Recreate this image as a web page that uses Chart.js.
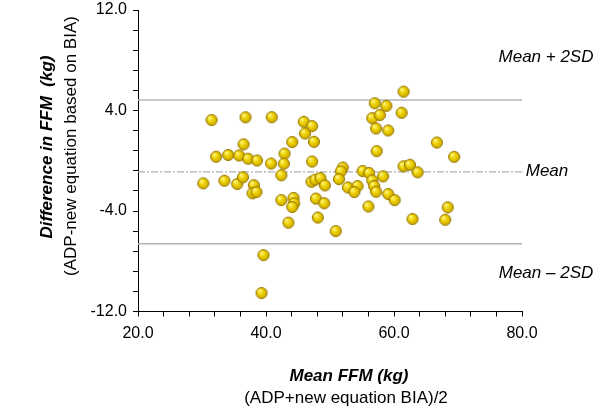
<!DOCTYPE html>
<html><head><meta charset="utf-8">
<script src="https://cdn.jsdelivr.net/npm/chart.js@4.4.0/dist/chart.umd.min.js"></script>
<style>html,body{margin:0;padding:0;background:#fff}</style>
</head><body>
<canvas id="c" width="600" height="408" style="display:block;width:600px;height:408px"></canvas>
<script>
// Mean FFM (x) and difference in FFM (y) for each subject
const meanFFM = [31.5,36.8,40.9,45.9,47.2,46.1,47.5,44.1,57.0,58.8,61.5,56.6,57.8,61.2,57.2,59.1,66.7,36.5,57.3,32.2,
  34.1,35.8,37.2,38.6,40.8,42.9,42.8,47.2,69.4,61.5,62.5,63.7,52.0,51.7,55.1,56.1,58.3,42.4,30.2,33.5,
  35.5,36.4,38.1,37.9,38.5,47.1,47.7,48.5,49.2,51.4,52.8,54.3,53.8,56.6,56.9,57.2,59.1,60.1,42.4,44.3,
  44.4,44.1,47.8,49.1,56.0,68.4,43.5,48.1,50.9,62.9,68.0,39.6,39.3];
const diffFFM = [3.24,3.46,3.47,3.10,2.76,2.17,1.51,1.49,4.58,4.37,5.50,3.39,3.64,3.82,2.57,2.41,1.45,1.31,0.77,0.32,
  0.46,0.42,0.16,0.02,-0.22,0.57,-0.23,-0.06,0.31,-0.44,-0.32,-0.92,-0.54,-0.84,-0.82,-0.98,-1.24,-1.15,-1.80,-1.59,
  -1.85,-1.31,-1.95,-2.59,-2.49,-1.67,-1.50,-1.38,-1.96,-1.46,-2.12,-2.01,-2.49,-1.56,-2.01,-2.47,-2.65,-3.13,-3.13,-2.96,
  -3.39,-3.68,-3.01,-3.38,-3.64,-3.71,-4.93,-4.52,-5.60,-4.64,-4.70,-7.51,-10.53];
const meanDiff = -0.89;
const upperLoA = 4.83;
const lowerLoA = -6.61;
const xRange = [20, 80];
const yRange = [-12, 12];
const xTickLabels = [20, 40, 60, 80];
const yTickLabels = [-12, -4, 4, 12];

const FONT = '"Liberation Sans", Arial, Helvetica, sans-serif';

function makeBall(r){
  const s = r*2+2, c = document.createElement('canvas');
  c.width = s; c.height = s;
  const g = c.getContext('2d'), cx = s/2, cy = s/2;
  const grad = g.createRadialGradient(cx-r*0.35, cy-r*0.4, r*0.1, cx, cy, r);
  grad.addColorStop(0, '#FFF47C');
  grad.addColorStop(0.45, '#EDD000');
  grad.addColorStop(1, '#C4A200');
  g.beginPath(); g.arc(cx, cy, r-0.5, 0, Math.PI*2);
  g.fillStyle = grad; g.fill();
  g.lineWidth = 1; g.strokeStyle = '#957500'; g.stroke();
  return c;
}
const ball = makeBall(6);

const pts = meanFFM.map((x,i)=>({x, y: diffFFM[i]}));
const hline = v => [{x:xRange[0], y:v},{x:xRange[1], y:v}];
const isLabel = (v, list) => list.some(l => Math.abs(l - v) < 1e-6);

const textPlugin = {
  id: 'texts',
  afterDraw(chart){
    const ctx = chart.ctx;
    ctx.save();
    ctx.fillStyle = '#000';
    ctx.textAlign = 'center';
    ctx.textBaseline = 'middle';
    ctx.font = 'bold italic 17px ' + FONT;
    ctx.fillText('Mean FFM (kg)', 349, 376);
    ctx.font = '17px ' + FONT;
    ctx.fillText('(ADP+new equation BIA)/2', 346, 398);
    ctx.save();
    ctx.translate(47, 147); ctx.rotate(-Math.PI/2);
    ctx.font = 'bold italic 17px ' + FONT;
    ctx.fillText('Difference in FFM  (kg)', 0, 0);
    ctx.restore();
    ctx.save();
    ctx.translate(71, 146); ctx.rotate(-Math.PI/2);
    ctx.font = '17px ' + FONT;
    ctx.fillText('(ADP-new equation based on BIA)', 0, 0);
    ctx.restore();
    ctx.font = 'italic 17px ' + FONT;
    ctx.fillText('Mean + 2SD', 546, 57);
    ctx.fillText('Mean', 547, 171);
    ctx.fillText('Mean \u2013 2SD', 546, 273);
    ctx.restore();
  }
};

new Chart(document.getElementById('c'), {
  type: 'scatter',
  data: {
    datasets: [
      { data: pts, pointStyle: ball, pointRadius: 6, order: 0 },
      { type: 'line', data: hline(upperLoA), showLine: true, borderColor: '#b4b4b4', borderWidth: 1.5, pointRadius: 0, order: 2 },
      { type: 'line', data: hline(lowerLoA), showLine: true, borderColor: '#b4b4b4', borderWidth: 1.5, pointRadius: 0, order: 2 },
      { type: 'line', data: hline(meanDiff), showLine: true, borderColor: '#b0b0b0', borderWidth: 1.2, borderDash: [7,2,2,2], pointRadius: 0, order: 2 }
    ]
  },
  options: {
    responsive: false,
    animation: false,
    devicePixelRatio: 1,
    layout: { padding: { left: 0, right: 78, top: 10, bottom: 0 } },
    plugins: { legend: { display: false }, tooltip: { enabled: false } },
    scales: {
      x: {
        type: 'linear', min: xRange[0], max: xRange[1],
        afterFit: s => { s.height = 96.5; s.paddingLeft = 0; s.paddingRight = 0; },
        ticks: { stepSize: 4, autoSkip: false, maxRotation: 0, color: '#000', padding: 7,
          font: { family: FONT, size: 16 },
          callback: v => isLabel(v, xTickLabels) ? v.toFixed(1) : '' },
        grid: { drawOnChartArea: false, drawTicks: true, tickLength: 5, color: '#000', lineWidth: 1 },
        border: { display: true, color: '#000', width: 1 }
      },
      y: {
        type: 'linear', min: yRange[0], max: yRange[1],
        afterFit: s => { s.width = 138; s.paddingTop = 0; s.paddingBottom = 0; },
        ticks: { stepSize: 1.6, autoSkip: false, color: '#000', padding: 6,
          font: { family: FONT, size: 16 },
          callback: v => isLabel(v, yTickLabels) ? v.toFixed(1) : '' },
        grid: { drawOnChartArea: false, drawTicks: true, tickLength: 5, color: '#000', lineWidth: 1 },
        border: { display: true, color: '#000', width: 1 }
      }
    }
  },
  plugins: [textPlugin]
});
</script>
</body></html>
